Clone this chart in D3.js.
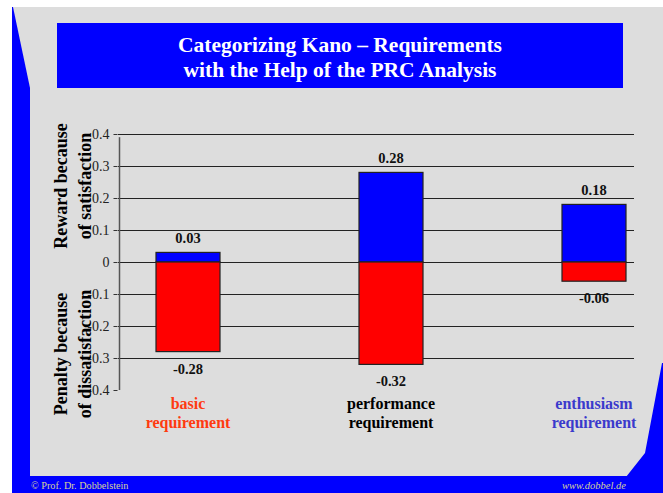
<!DOCTYPE html>
<html>
<head>
<meta charset="utf-8">
<script src="https://cdn.jsdelivr.net/npm/d3@7"></script>
<style>
  html, body { margin: 0; padding: 0; background: #ffffff; }
  svg { display: block; }
</style>
</head>
<body>
<svg id="chart" width="663" height="493"></svg>
<script>
// ---- data ----
const titleLines = ["Categorizing Kano \u2013 Requirements", "with the Help of the PRC Analysis"];
const categories = ["basic requirement", "performance requirement", "enthusiasm requirement"];
const categoryLines = [["basic", "requirement"], ["performance", "requirement"], ["enthusiasm", "requirement"]];
const rewardValues = [0.03, 0.28, 0.18];
const penaltyValues = [-0.28, -0.32, -0.06];
const yTicks = [0.4, 0.3, 0.2, 0.1, 0, -0.1, -0.2, -0.3, -0.4];
const gridValues = [0.4, 0.3, 0.2, 0.1, 0, -0.1, -0.2, -0.3];
const rewardAxisLines = ["Reward because", "of satisfaction"];
const penaltyAxisLines = ["Penalty because", "of dissatisfaction"];
const footerLeft = "\u00A9 Prof. Dr. Dobbelstein";
const footerRight = "www.dobbel.de";

// ---- styles ----
const categoryColors = ["#ff3a10", "#000000", "#3a3acc"];
const serif = "'Liberation Serif', 'Times New Roman', serif";

const svg = d3.select("#chart");

// frame
svg.append("rect").attr("x", 12).attr("y", 7).attr("width", 651).attr("height", 470).attr("fill", "#dddddd");
svg.append("polygon").attr("points", "12,7 13,7 30,88 30,477 12,477").attr("fill", "#0000ff");
svg.append("rect").attr("x", 12).attr("y", 476).attr("width", 651).attr("height", 17).attr("fill", "#0000ff");
svg.append("polygon").attr("points", "626,477 645,453 662,363 663,363 663,477").attr("fill", "#0000ff");

// title
svg.append("rect").attr("x", 57).attr("y", 23).attr("width", 566).attr("height", 65).attr("fill", "#0000ff");
svg.append("text")
  .attr("x", 340).attr("text-anchor", "middle")
  .attr("font-family", serif).attr("font-weight", "bold").attr("font-size", 21.5)
  .attr("fill", "#ffffff")
  .selectAll("tspan").data(titleLines).join("tspan")
  .attr("x", 340).attr("y", (d, i) => 52 + i * 25).text(d => d);

// scales
const y = d3.scaleLinear().domain([-0.4, 0.4]).range([390, 134]);
const x = d3.scalePoint().domain(categories).range([188, 594]);
const barW = 64;

// gridlines
svg.append("g").selectAll("line").data(gridValues).join("line")
  .attr("x1", 118).attr("x2", 634)
  .attr("y1", d => Math.round(y(d)) + 0.5).attr("y2", d => Math.round(y(d)) + 0.5)
  .attr("stroke", "#222").attr("stroke-width", 1);

// y axis ticks + labels
const yAxis = d3.axisLeft(y).tickValues(yTicks).tickSize(4).tickPadding(4)
  .tickFormat(d => d === 0 ? "0" : String(d));
const gAxis = svg.append("g").attr("transform", "translate(117.5,0)").call(yAxis);
gAxis.select(".domain").remove();
gAxis.selectAll(".tick line").attr("stroke", "#333");
gAxis.selectAll(".tick text").attr("font-family", serif).attr("font-size", 14).attr("fill", "#222");

// axis line
svg.append("line").attr("x1", 119.5).attr("x2", 119.5).attr("y1", y(0.39)).attr("y2", y(-0.4))
  .attr("stroke", "#555").attr("stroke-width", 1.5);

// bars
const bars = svg.append("g");
bars.selectAll("rect.reward").data(rewardValues).join("rect")
  .attr("class", "reward")
  .attr("x", (d, i) => x(categories[i]) - barW / 2).attr("width", barW)
  .attr("y", d => y(d)).attr("height", d => y(0) - y(d))
  .attr("fill", "#0000ff").attr("stroke", "#222").attr("stroke-width", 1.2);
bars.selectAll("rect.penalty").data(penaltyValues).join("rect")
  .attr("class", "penalty")
  .attr("x", (d, i) => x(categories[i]) - barW / 2).attr("width", barW)
  .attr("y", y(0)).attr("height", d => y(d) - y(0))
  .attr("fill", "#ff0000").attr("stroke", "#222").attr("stroke-width", 1.2);

// value labels
const labels = svg.append("g").attr("font-family", serif).attr("font-weight", "bold")
  .attr("font-size", 14.5).attr("fill", "#111").attr("text-anchor", "middle");
labels.selectAll("text.r").data(rewardValues).join("text").attr("class", "r")
  .attr("x", (d, i) => x(categories[i])).attr("y", d => y(d) - 9).text(d => d.toFixed(2));
labels.selectAll("text.p").data(penaltyValues).join("text").attr("class", "p")
  .attr("x", (d, i) => x(categories[i])).attr("y", d => y(d) + 22).text(d => d.toFixed(2));

// category labels
const cats = svg.append("g").attr("font-family", serif).attr("font-weight", "bold")
  .attr("font-size", 16).attr("text-anchor", "middle");
categories.forEach((c, i) => {
  const t = cats.append("text").attr("fill", categoryColors[i]);
  t.selectAll("tspan").data(categoryLines[i]).join("tspan")
    .attr("x", x(c)).attr("y", (d, j) => 409 + j * 19).text(d => d);
});

// y-axis titles
function axisTitle(lines, cy) {
  const t = svg.append("text").attr("font-family", serif).attr("font-weight", "bold")
    .attr("font-size", 18).attr("fill", "#000").attr("text-anchor", "middle")
    .attr("transform", `translate(0,${cy}) rotate(-90)`);
  t.selectAll("tspan").data(lines).join("tspan")
    .attr("x", 0).attr("y", (d, i) => 67 + i * 24).text(d => d);
}
axisTitle(rewardAxisLines, 186);
axisTitle(penaltyAxisLines, 354);

// footer
svg.append("text").attr("x", 31).attr("y", 489).attr("font-family", serif).attr("font-size", 10.2)
  .attr("fill", "#d6d09a").text(footerLeft);
svg.append("text").attr("x", 626).attr("y", 489).attr("text-anchor", "end").attr("font-family", serif)
  .attr("font-style", "italic").attr("font-size", 10.5).attr("fill", "#d6d09a").text(footerRight);
</script>
</body>
</html>
